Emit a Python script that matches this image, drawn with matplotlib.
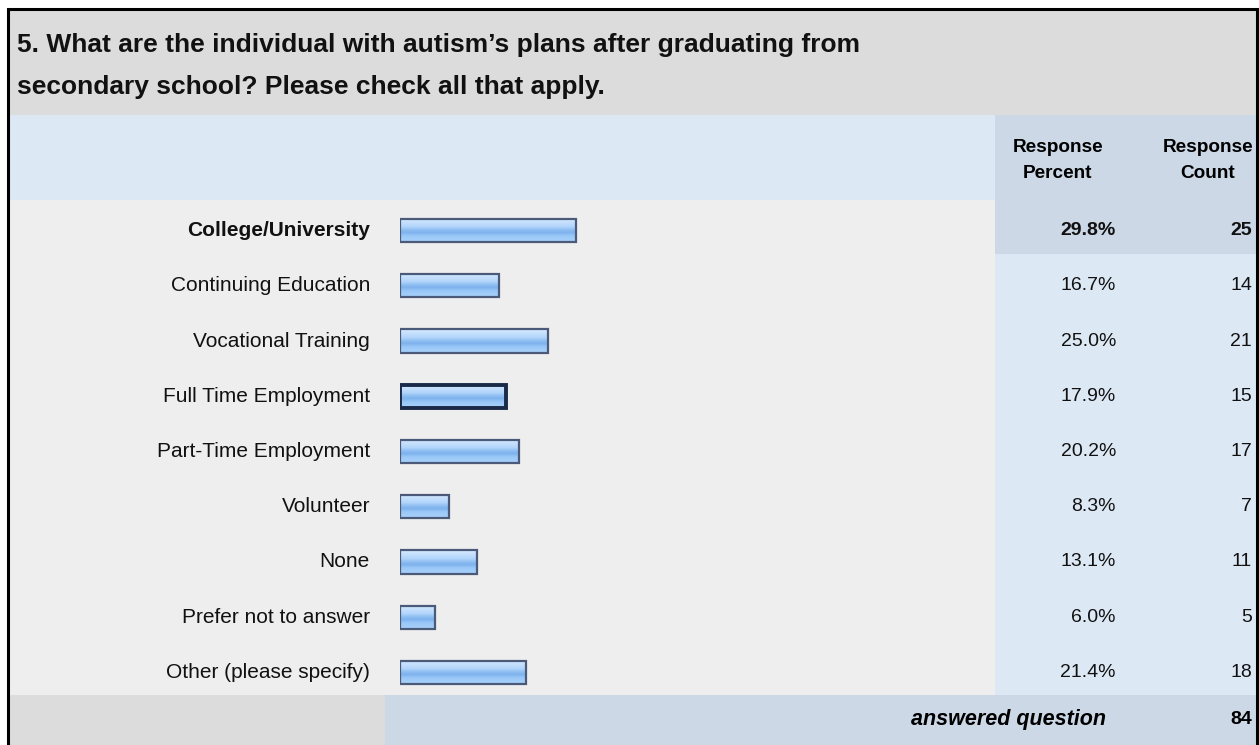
import matplotlib
matplotlib.use("Agg")
import matplotlib.pyplot as plt
import matplotlib.transforms as mtransforms
from matplotlib.patches import Rectangle
from matplotlib.colors import LinearSegmentedColormap
import numpy as np

plt.rcParams['font.family'] = ['Liberation Sans', 'DejaVu Sans']

title = ("5. What are the individual with autism\u2019s plans after graduating from\n"
         "secondary school? Please check all that apply.")
categories = ["College/University", "Continuing Education", "Vocational Training",
              "Full Time Employment", "Part-Time Employment", "Volunteer", "None",
              "Prefer not to answer", "Other (please specify)"]
percents = [29.8, 16.7, 25.0, 17.9, 20.2, 8.3, 13.1, 6.0, 21.4]
counts = [25, 14, 21, 15, 17, 7, 11, 5, 18]
answered = 84

W, H = 1259, 745
fig = plt.figure(figsize=(W / 100, H / 100), dpi=100)
fig.patch.set_facecolor('white')

# background layer in pixel coords
bg = fig.add_axes([0, 0, 1, 1])
bg.set_xlim(0, W)
bg.set_ylim(H, 0)
bg.axis('off')

gray = '#dcdcdc'
light_blue = '#dde8f5'
mid_blue = '#ccd8e6'
row_gray = '#eeeeee'

bg.add_patch(Rectangle((8, 9), 1249, 106, color=gray, lw=0))
bg.add_patch(Rectangle((8, 115), 987, 85, color=light_blue, lw=0))
bg.add_patch(Rectangle((995, 115), 262, 85, color=mid_blue, lw=0))
bg.add_patch(Rectangle((8, 200), 987, 495, color=row_gray, lw=0))
bg.add_patch(Rectangle((995, 200), 262, 495, color=light_blue, lw=0))
bg.add_patch(Rectangle((995, 200), 262, 54, color=mid_blue, lw=0))
bg.add_patch(Rectangle((8, 695), 377, 50, color=gray, lw=0))
bg.add_patch(Rectangle((385, 695), 872, 50, color=mid_blue, lw=0))
# outer frame
bg.plot([8, 8, 1257, 1257], [745, 9, 9, 745], color='black', lw=2.2,
        solid_joinstyle='miter')

bg.text(17, 45, title.split('\n')[0], fontsize=19, fontweight='bold',
        va='center', ha='left', color='#111111')
bg.text(17, 87, title.split('\n')[1], fontsize=19, fontweight='bold',
        va='center', ha='left', color='#111111')

hs = 13.7
bg.text(1058, 147, "Response", fontsize=hs, fontweight='bold', ha='center', va='center')
bg.text(1058, 173, "Percent", fontsize=hs, fontweight='bold', ha='center', va='center')
bg.text(1208, 147, "Response", fontsize=hs, fontweight='bold', ha='center', va='center')
bg.text(1208, 173, "Count", fontsize=hs, fontweight='bold', ha='center', va='center')

bg.text(1106, 720, "answered question", fontsize=15.5, fontweight='bold',
        style='italic', ha='right', va='center')
bg.text(1252, 720, str(answered), fontsize=14, fontweight='bold',
        ha='right', va='center')

# bar axes
top_px, bot_px = 203, 700
left_px, right_px = 400, 995
ax = fig.add_axes([left_px / W, (H - bot_px) / H,
                   (right_px - left_px) / W, (bot_px - top_px) / H])
ax.axis('off')
ax.patch.set_alpha(0)
xmax = (right_px - left_px) / 5.9
y = np.arange(len(categories))
bh = 0.42

cmap = LinearSegmentedColormap.from_list(
    'glass', [(0.0, '#d6eaff'), (0.35, '#b2d5fb'), (0.5, '#8dbdf1'),
              (0.6, '#7eb2ee'), (0.75, '#9ac8f8'), (1.0, '#a9d1fb')])
grad = np.linspace(0, 1, 64).reshape(-1, 1)

bars = ax.barh(y, percents, height=bh, color='#9cc6f5', lw=0, zorder=2)
for b in bars:
    im = ax.imshow(grad, cmap=cmap, aspect='auto', zorder=3,
                   extent=[b.get_x(), b.get_x() + b.get_width(),
                           b.get_y() + b.get_height(), b.get_y()])
    im.set_clip_path(b)
edges = ['#4a5a78'] * len(categories)
widths = [1.6] * len(categories)
edges[3] = '#1a2a48'
widths[3] = 2.8
ax.barh(y, percents, height=bh, fill=False, edgecolor=edges, linewidth=widths, zorder=4)
ax.set_xlim(0, xmax)
ax.set_ylim(len(categories) - 0.5, -0.5)

tr = mtransforms.blended_transform_factory(bg.transData, ax.transData)
for i, (cat, p, c) in enumerate(zip(categories, percents, counts)):
    w = 'bold' if i == 0 else 'normal'
    ax.text(370, i, cat, transform=tr, ha='right', va='center',
            fontsize=15, fontweight=w, color='#111111')
    ax.text(1116, i, f"{p:.1f}%", transform=tr, ha='right', va='center',
            fontsize=14, fontweight=w, color='#111111')
    ax.text(1252, i, str(c), transform=tr, ha='right', va='center',
            fontsize=14, fontweight=w, color='#111111')

fig.savefig('out.png', dpi=100)
